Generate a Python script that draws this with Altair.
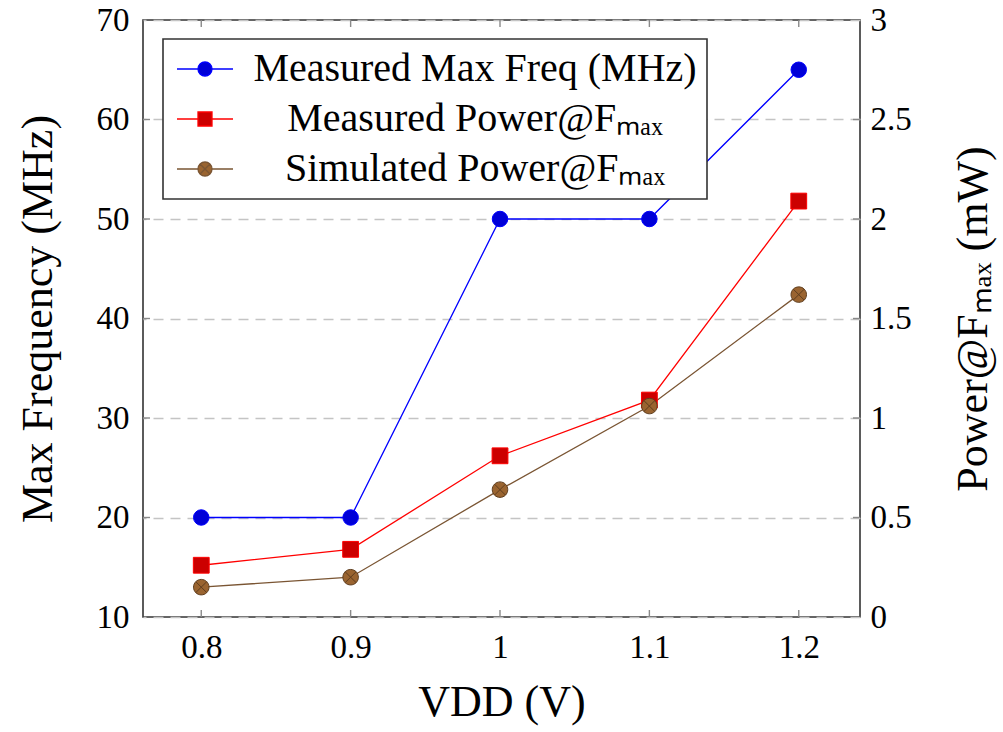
import altair as alt
import pandas as pd

# ---- data ----
vdd = [0.8, 0.9, 1.0, 1.1, 1.2]
max_freq = [20, 20, 50, 50, 65]
meas_power = [0.26, 0.34, 0.81, 1.09, 2.09]
sim_power = [0.15, 0.20, 0.64, 1.06, 1.62]

freq_ticks = [20, 30, 40, 50, 60]
power_ticks = [0.5, 1.0, 1.5, 2.0, 2.5]

series_names = [
    "Measured Max Freq (MHz)",
    "Measured Power@Fₘₐₓ",
    "Simulated Power@Fₘₐₓ",
]

W, H = 717, 597
FONT = "Liberation Serif"

BLUE_LINE, BLUE_FILL = "#0000ff", "#0000d8"
RED_LINE, RED_FILL = "#ff0000", "#cc0000"
BROWN_LINE, BROWN_FILL = "#7a5533", "#9a6430"

df_freq = pd.DataFrame({"vdd": vdd, "freq": max_freq})
df_meas = pd.DataFrame({"vdd": vdd, "power": meas_power})
df_sim = pd.DataFrame({"vdd": vdd, "power": sim_power})
df_ft = pd.DataFrame({"v": freq_ticks})
df_pt = pd.DataFrame({"v": power_ticks})
df_xt = pd.DataFrame({"v": vdd})
df_leg = pd.DataFrame({"series": series_names})

x_scale = alt.Scale(domain=[0.761, 1.241], nice=False, zero=False)
x_axis = alt.Axis(
    values=vdd, format="~g", title="VDD (V)", grid=False, ticks=False,
    labelFont=FONT, labelFontSize=33, labelPadding=14, labelColor="black",
    titleFont=FONT, titleFontSize=44, titleFontWeight="normal", titlePadding=16,
    titleColor="black", domain=False,
)
yl_scale = alt.Scale(domain=[10, 70], nice=False, zero=False)
yr_scale = alt.Scale(domain=[0, 3], nice=False, zero=False)

X = alt.X("vdd:Q", scale=x_scale, axis=x_axis)

# ----- left (frequency) layer -----
freq_line = alt.Chart(df_freq).mark_line(color=BLUE_LINE, strokeWidth=1.3).encode(
    x=X,
    y=alt.Y("freq:Q", scale=yl_scale, axis=alt.Axis(
        values=[10, 20, 30, 40, 50, 60, 70], title="Max Frequency (MHz)", grid=False,
        ticks=False, domain=False, labelFont=FONT, labelFontSize=33, labelPadding=14,
        labelColor="black", titleFont=FONT, titleFontSize=44, titleFontWeight="normal",
        titleColor="black", titlePadding=36)),
)
freq_pts = alt.Chart(df_freq).mark_point(
    shape="circle", filled=True, fill=BLUE_FILL, stroke=BLUE_LINE, strokeWidth=1,
    size=240, opacity=1).encode(x=X, y=alt.Y("freq:Q", scale=yl_scale))

left_ticks = alt.Chart(df_ft).mark_rule(color="#8a8a8a", strokeWidth=1.4).encode(
    y=alt.Y("v:Q", scale=yl_scale), x=alt.value(0), x2=alt.value(7))

top_ticks = alt.Chart(df_xt).mark_rule(color="#8a8a8a", strokeWidth=1.4).encode(
    x=alt.X("v:Q", scale=x_scale), y=alt.value(0), y2=alt.value(7))
bottom_ticks = alt.Chart(df_xt).mark_rule(color="#8a8a8a", strokeWidth=1.4).encode(
    x=alt.X("v:Q", scale=x_scale), y=alt.value(H - 7), y2=alt.value(H))

legend_layer = alt.Chart(df_leg).mark_point(filled=True, size=0, opacity=1).encode(
    stroke=alt.Stroke("series:N", scale=alt.Scale(domain=series_names,
                      range=[BLUE_LINE, RED_LINE, BROWN_LINE]), legend=alt.Legend(title=None)),
    fill=alt.Fill("series:N", scale=alt.Scale(domain=series_names,
                  range=[BLUE_FILL, RED_FILL, BROWN_FILL]), legend=alt.Legend(title=None)),
    shape=alt.Shape("series:N", scale=alt.Scale(domain=series_names, range=[
        "M-4,0L-1,0M1,0L4,0M-1,0A1,1,0,1,1,1,0A1,1,0,1,1,-1,0Z",
        "M-4,0L-1,0M1,0L4,0M-1,-1L1,-1L1,1L-1,1Z",
        "M-4,0L-1,0M1,0L4,0M-1,0A1,1,0,1,1,1,0A1,1,0,1,1,-1,0ZM-0.707,-0.707L0.707,0.707M-0.707,0.707L0.707,-0.707",
    ]), legend=alt.Legend(title=None)),
)

left = alt.layer(left_ticks, top_ticks, bottom_ticks, freq_line, freq_pts, legend_layer)

# ----- right (power) layer -----
YR = alt.Y("power:Q", scale=yr_scale, axis=alt.Axis(
    values=[0, 0.5, 1, 1.5, 2, 2.5, 3], format="~g", title="Power@Fₘₐₓ (mW)", grid=True,
    gridDash=[10, 7], gridColor="#c4c4c4", gridWidth=1.4, ticks=False, domain=False,
    labelFont=FONT, labelFontSize=33, labelPadding=10, labelColor="black",
    titleFont=FONT, titleFontSize=44, titleFontWeight="normal", titleColor="black",
    titleAngle=270, titlePadding=40, titleBaseline="top", orient="right"))

meas_line = alt.Chart(df_meas).mark_line(color=RED_LINE, strokeWidth=1.3).encode(x=X, y=YR)
meas_pts = alt.Chart(df_meas).mark_point(
    shape="square", filled=True, fill=RED_FILL, stroke=RED_LINE, strokeWidth=1,
    size=250, opacity=1).encode(x=X, y=alt.Y("power:Q", scale=yr_scale))
OTIMES = "M-1,0A1,1,0,1,1,1,0A1,1,0,1,1,-1,0ZM-0.707,-0.707L0.707,0.707M-0.707,0.707L0.707,-0.707"
sim_line = alt.Chart(df_sim).mark_line(color=BROWN_LINE, strokeWidth=1.3).encode(x=X, y=alt.Y("power:Q", scale=yr_scale))
sim_pts = alt.Chart(df_sim).mark_point(
    shape=OTIMES, filled=True, fill=BROWN_FILL, stroke="#5e3d1e", strokeWidth=1,
    size=240, opacity=1).encode(x=X, y=alt.Y("power:Q", scale=yr_scale))
right_ticks = alt.Chart(df_pt).mark_rule(color="#8a8a8a", strokeWidth=1.4).encode(
    y=alt.Y("v:Q", scale=yr_scale), x=alt.value(W - 7), x2=alt.value(W))

right = alt.layer(meas_line, right_ticks, sim_line, meas_pts, sim_pts)

chart = alt.layer(left, right).resolve_scale(y="independent").properties(
    width=W, height=H,
    autosize=alt.AutoSizeParams(type="none"),
    padding={"left": 143, "top": 20, "right": 143, "bottom": 115},
    background="white",
).configure_view(
    stroke="#333333", strokeWidth=1.6,
).configure_legend(
    orient="none", legendX=20, legendY=19,
    strokeColor="#333333", strokeWidth=1.6, fillColor="white",
    padding=10, rowPadding=10,
    labelFont=FONT, labelFontSize=40, labelColor="black", labelLimit=0,
    symbolSize=196, symbolStrokeWidth=1.3, symbolOffset=12, symbolOpacity=1,
    labelAlign="center", labelOffset=250,
)

chart.save("out.html", embed_options={"renderer": "svg", "actions": False})
